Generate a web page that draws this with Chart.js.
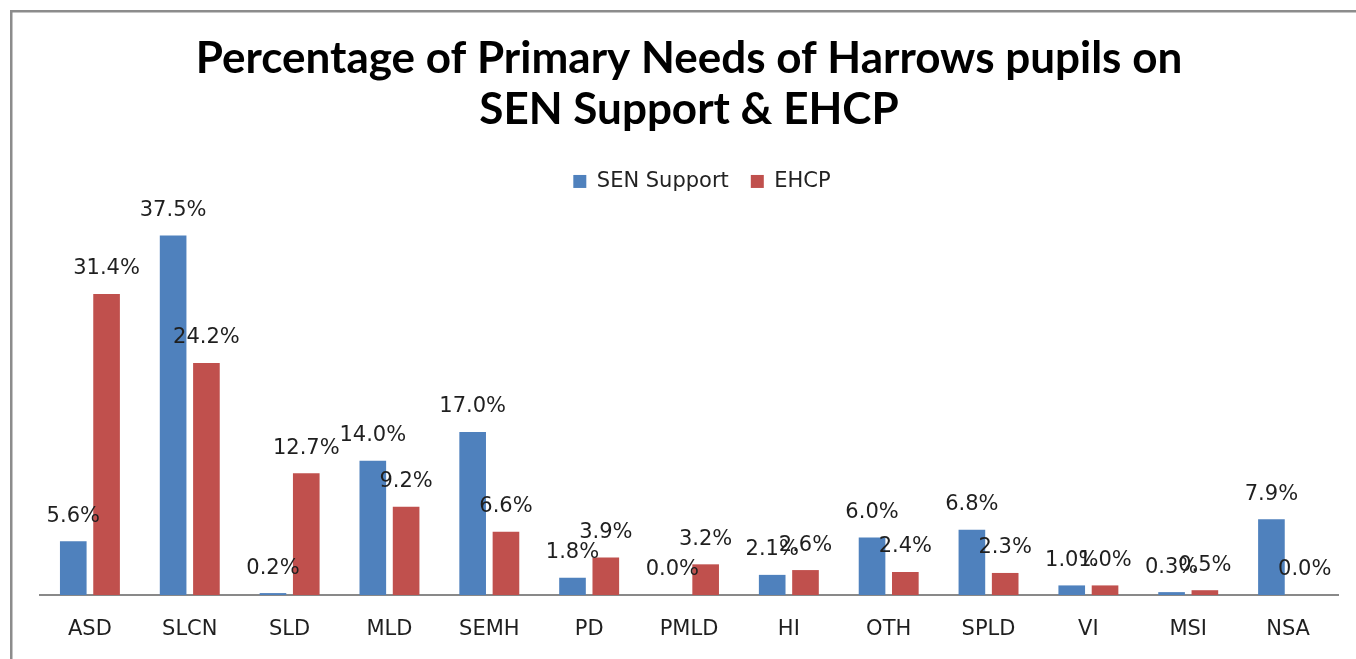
<!DOCTYPE html>
<html><head><meta charset="utf-8">
<script src="https://cdn.jsdelivr.net/npm/chart.js@4"></script>
<style>html,body{margin:0;padding:0;background:#fff;overflow:hidden;} #wrap{width:1356px;height:659px;}</style>
</head><body><div id="wrap"><canvas id="c" width="1356" height="659"></canvas></div>
<script>
const categories = ['ASD','SLCN','SLD','MLD','SEMH','PD','PMLD','HI','OTH','SPLD','VI','MSI','NSA'];
const senSupport = [5.6,37.5,0.2,14.0,17.0,1.8,0.0,2.1,6.0,6.8,1.0,0.3,7.9];
const ehcp = [31.4,24.2,12.7,9.2,6.6,3.9,3.2,2.6,2.4,2.3,1.0,0.5,0.0];
const seriesNames = ['SEN Support','EHCP'];
const titleLines = ['Percentage of Primary Needs of Harrows pupils on','SEN Support & EHCP'];

const framePlugin = {
  id: 'frame',
  beforeDraw(chart) {
    const ctx = chart.ctx;
    ctx.save();
    ctx.fillStyle = '#ffffff';
    ctx.fillRect(0, 0, chart.width, chart.height);
    ctx.strokeStyle = '#8c8c8c';
    ctx.lineWidth = 2.5;
    ctx.strokeRect(11.25, 11.25, 1400, 700);
    ctx.restore();
  }
};

const legendShift = {
  id: 'legendShift',
  afterLayout(chart) {
    if (chart.legend) { chart.legend.left += 13; chart.legend.right += 13; }
  }
};

const labelPlugin = {
  id: 'valueLabels',
  afterDatasetsDraw(chart) {
    const ctx = chart.ctx;
    ctx.save();
    ctx.font = '21px "DejaVu Sans"';
    ctx.fillStyle = '#1f1f1f';
    ctx.textAlign = 'center';
    ctx.textBaseline = 'middle';
    chart.data.datasets.forEach((ds, di) => {
      const meta = chart.getDatasetMeta(di);
      meta.data.forEach((el, i) => {
        ctx.fillText(ds.data[i].toFixed(1) + '%', el.x, el.y - 25);
      });
    });
    ctx.restore();
  }
};

new Chart(document.getElementById('c'), {
  type: 'bar',
  data: {
    labels: categories,
    datasets: [
      { label: seriesNames[0], data: senSupport, backgroundColor: '#4F81BD', borderWidth: 0,
        categoryPercentage: 0.667, barPercentage: 0.8 },
      { label: seriesNames[1], data: ehcp, backgroundColor: '#C0504D', borderWidth: 0,
        categoryPercentage: 0.667, barPercentage: 0.8 }
    ]
  },
  options: {
    responsive: false,
    animation: false,
    devicePixelRatio: 1,
    layout: { padding: { left: 40, right: 18, top: 0, bottom: 0 } },
    plugins: {
      title: {
        display: true,
        text: titleLines,
        color: '#000000',
        font: { family: 'Lato', weight: 'bold', size: 44, lineHeight: 1.17 },
        padding: { top: 33, bottom: 13 }
      },
      legend: {
        display: true,
        labels: {
          boxWidth: 13, boxHeight: 13, padding: 22,
          color: '#222222',
          font: { family: 'DejaVu Sans', size: 21 }
        }
      },
      tooltip: { enabled: false }
    },
    scales: {
      x: {
        grid: { display: false, drawTicks: false },
        border: { display: true, color: '#898989', width: 2 },
        ticks: { color: '#1f1f1f', padding: 22, font: { family: 'DejaVu Sans', size: 21 } },
        afterFit(scale) { scale.height = 64; }
      },
      y: {
        display: false,
        min: 0,
        max: 41
      }
    }
  },
  plugins: [framePlugin, legendShift, labelPlugin]
});
</script>
</body></html>
